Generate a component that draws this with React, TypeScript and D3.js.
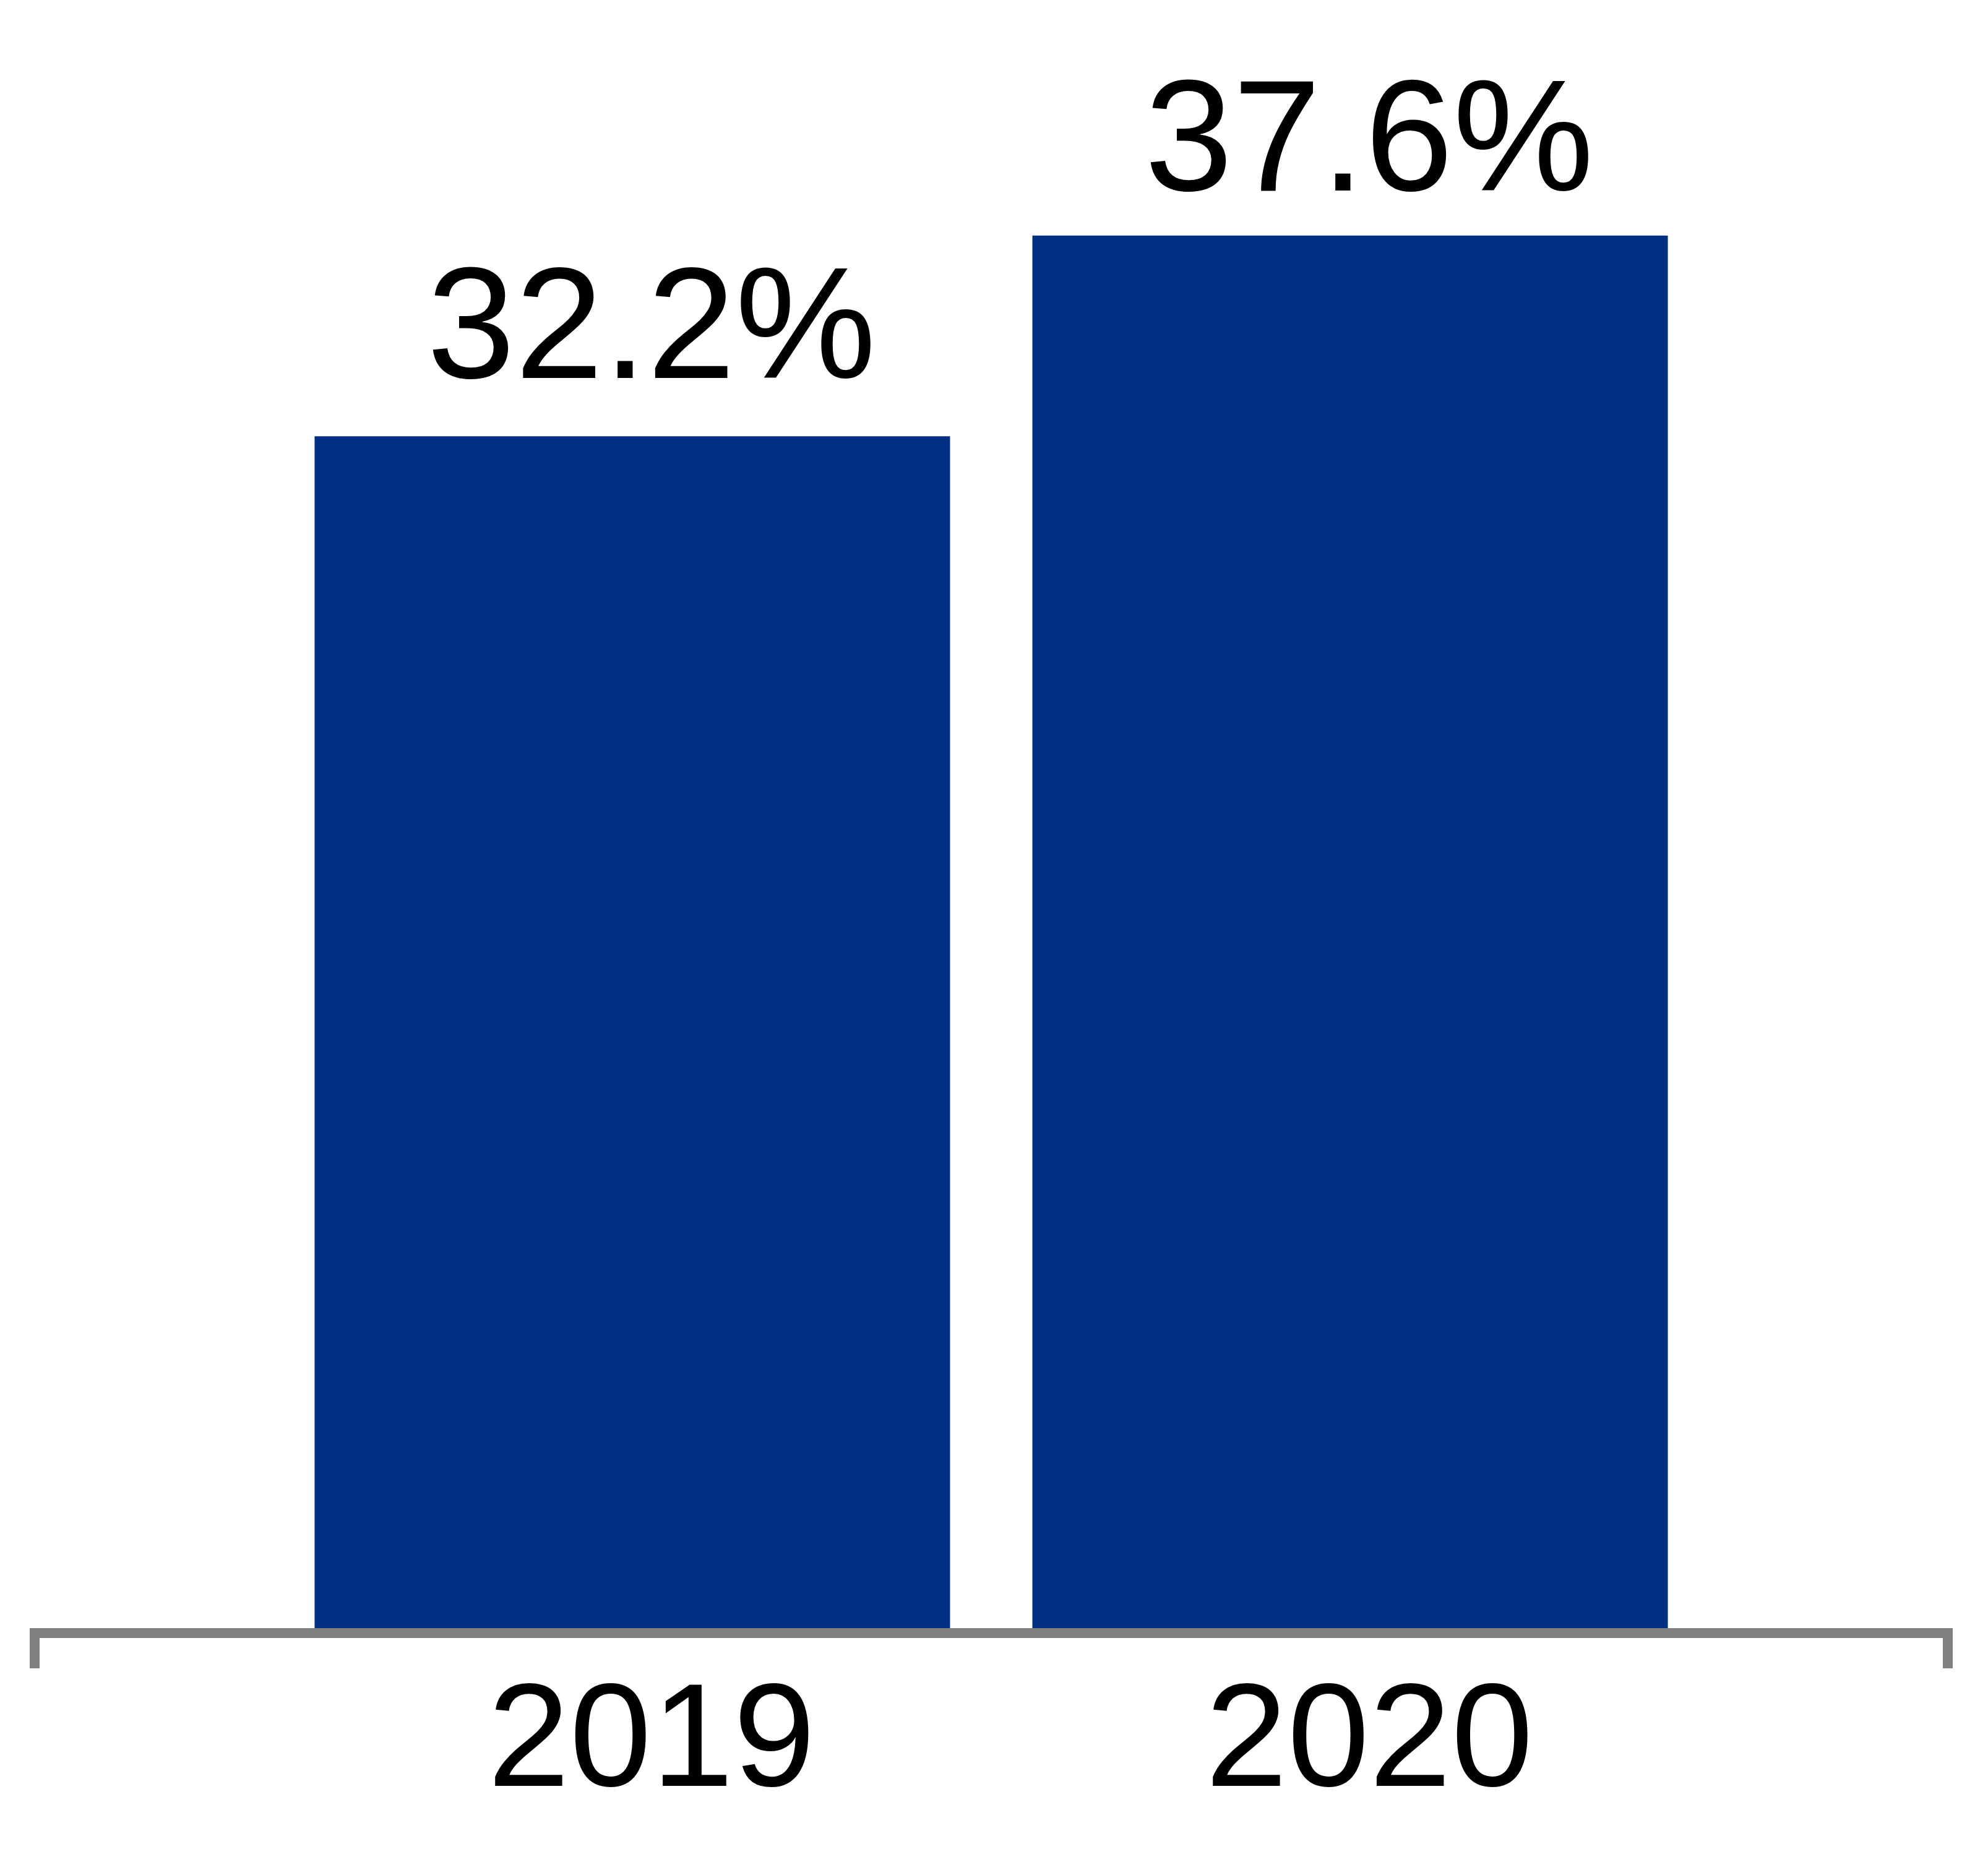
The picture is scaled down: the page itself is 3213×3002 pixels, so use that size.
import React, { useEffect } from "react";
import * as d3 from "d3";

const categories: string[] = ["2019", "2020"];
const values: number[] = [32.2, 37.6];
const valueLabels: string[] = ["32.2%", "37.6%"];

const W = 3213;
const H = 3002;
const axisY = 2640;
const axisLeft = 56;
const axisRight = 3148;
const labelGap = [94, 73];
const labelShift = 31;
const barColor = "#003082";
const axisColor = "#808080";
const font = "'Liberation Sans', Arial, sans-serif";

export default function App() {
  useEffect(() => {
    document.body.style.margin = "0";
  }, []);

  const x = d3
    .scaleBand<string>()
    .domain(categories)
    .range([axisLeft, axisRight])
    .paddingInner(0.1147)
    .paddingOuter(0.39);

  const y = d3.scaleLinear().domain([0, 40]).range([axisY, axisY - 40 * 60.085]);

  return (
    <svg width={W} height={H} style={{ display: "block", background: "#fff" }}>
      <rect x={0} y={0} width={W} height={H} fill="#fff" />
      {categories.map((c, i) => (
        <rect
          key={c}
          x={x(c)!}
          y={y(values[i])}
          width={x.bandwidth()}
          height={y(0) - y(values[i])}
          fill={barColor}
        />
      ))}
      <line x1={axisLeft} x2={axisRight} y1={axisY} y2={axisY} stroke={axisColor} strokeWidth={16} />
      {[axisLeft, axisRight].map((px, i) => (
        <line key={i} x1={px} x2={px} y1={axisY - 8} y2={axisY + 57} stroke={axisColor} strokeWidth={16} />
      ))}
      {categories.map((c, i) => (
        <text
          key={"v" + c}
          x={x(c)! + x.bandwidth() / 2 + labelShift}
          y={y(values[i]) - labelGap[i]}
          textAnchor="middle"
          fontFamily={font}
          fontSize={256}
          fill="#000"
        >
          {valueLabels[i]}
        </text>
      ))}
      {categories.map((c) => (
        <text
          key={"c" + c}
          x={x(c)! + x.bandwidth() / 2 + labelShift}
          y={2887}
          textAnchor="middle"
          fontFamily={font}
          fontSize={238}
          fill="#000"
        >
          {c}
        </text>
      ))}
    </svg>
  );
}
